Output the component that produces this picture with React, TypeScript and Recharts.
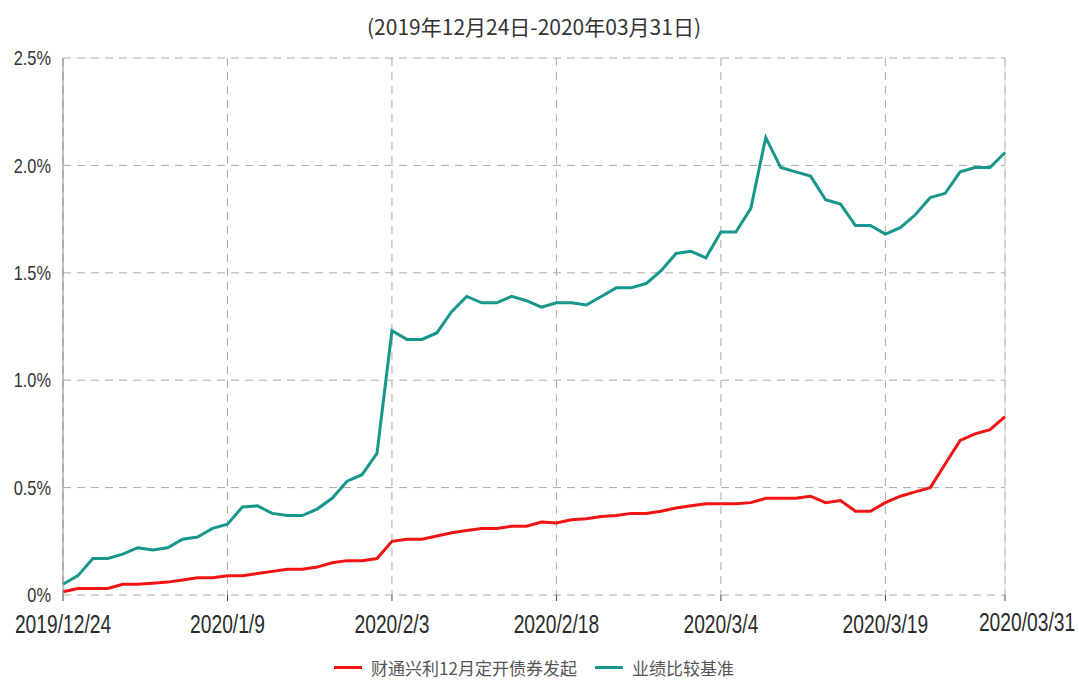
import { LineChart, Line, XAxis, YAxis, CartesianGrid, Legend, ReferenceLine } from 'recharts'

const dates = [
    '2019/12/24', '2019/12/25', '2019/12/26', '2019/12/27', '2019/12/30', '2019/12/31',
    '2020/1/2', '2020/1/3', '2020/1/6', '2020/1/7', '2020/1/8', '2020/1/9', '2020/1/10',
    '2020/1/13', '2020/1/14', '2020/1/15', '2020/1/16', '2020/1/17', '2020/1/20', '2020/1/21',
    '2020/1/22', '2020/1/23',
    '2020/2/3', '2020/2/4', '2020/2/5', '2020/2/6', '2020/2/7', '2020/2/10', '2020/2/11',
    '2020/2/12', '2020/2/13', '2020/2/14', '2020/2/17', '2020/2/18', '2020/2/19', '2020/2/20',
    '2020/2/21', '2020/2/24', '2020/2/25', '2020/2/26', '2020/2/27', '2020/2/28',
    '2020/3/2', '2020/3/3', '2020/3/4', '2020/3/5', '2020/3/6', '2020/3/9', '2020/3/10',
    '2020/3/11', '2020/3/12', '2020/3/13', '2020/3/16', '2020/3/17', '2020/3/18', '2020/3/19',
    '2020/3/20', '2020/3/23', '2020/3/24', '2020/3/25', '2020/3/26', '2020/3/27', '2020/3/30',
    '2020/3/31',
]

// 财通兴利12月定开债券发起 (%)
const fund = [
    0.015, 0.03, 0.03, 0.03, 0.05, 0.05, 0.055, 0.06, 0.07, 0.08, 0.08, 0.09, 0.09,
    0.10, 0.11, 0.12, 0.12, 0.13, 0.15, 0.16, 0.16, 0.17,
    0.25, 0.26, 0.26, 0.275, 0.29, 0.30, 0.31, 0.31, 0.32, 0.32, 0.34, 0.335, 0.35, 0.355,
    0.365, 0.37, 0.38, 0.38, 0.39, 0.405,
    0.415, 0.425, 0.425, 0.425, 0.43, 0.45, 0.45, 0.45, 0.46, 0.43, 0.44, 0.39, 0.39, 0.43,
    0.46, 0.48, 0.50, 0.61, 0.72, 0.75, 0.77, 0.83,
]

// 业绩比较基准 (%)
const benchmark = [
    0.05, 0.09, 0.17, 0.17, 0.19, 0.22, 0.21, 0.22, 0.26, 0.27, 0.31, 0.33, 0.41,
    0.415, 0.38, 0.37, 0.37, 0.40, 0.45, 0.53, 0.56, 0.66,
    1.23, 1.19, 1.19, 1.22, 1.32, 1.39, 1.36, 1.36, 1.39, 1.37, 1.34, 1.36, 1.36, 1.35,
    1.39, 1.43, 1.43, 1.45, 1.51, 1.59,
    1.60, 1.57, 1.69, 1.69, 1.80, 2.13, 1.99, 1.97, 1.95, 1.84, 1.82, 1.72, 1.72, 1.68,
    1.71, 1.77, 1.85, 1.87, 1.97, 1.99, 1.99, 2.06,
]

const tickDates = ['2019/12/24', '2020/1/9', '2020/2/3', '2020/2/18', '2020/3/4', '2020/3/19', '2020/3/31']
const tickLabels = ['2019/12/24', '2020/1/9', '2020/2/3', '2020/2/18', '2020/3/4', '2020/3/19', '2020/03/31']
const yTicks = [0, 0.5, 1.0, 1.5, 2.0, 2.5]

const seriesNames = ['财通兴利12月定开债券发起', '业绩比较基准']
const RED = '#f21414'
const TEAL = '#17968b'

const data = dates.map((d, i) => ({ i, date: d, fund: fund[i], benchmark: benchmark[i] }))
const xTicks = tickDates.map(d => dates.indexOf(d))
const lastIdx = dates.length - 1

const XTick = (props: any) => {
    const { x, y, payload } = props
    const k = xTicks.indexOf(payload.value)
    const isLast = payload.value === lastIdx
    return (
        <g transform={`translate(${x + (isLast ? 22 : 0)},${y + (isLast ? -2 : 0)})`}>
            <text transform="scale(0.74,1)" textAnchor="middle" dy="0.71em" fontSize={26}
                fontFamily="'Liberation Sans', Arial, sans-serif" fill="#2b2b2b">
                {tickLabels[k]}
            </text>
        </g>
    )
}

const YTick = (props: any) => {
    const { x, y, payload } = props
    const v = payload.value
    return (
        <g transform={`translate(${x},${y})`}>
            <text transform="scale(0.82,1)" textAnchor="end" dy="0.36em" fontSize={20}
                fontFamily="'Liberation Sans', Arial, sans-serif" fill="#333">
                {v === 0 ? '0%' : v.toFixed(1) + '%'}
            </text>
        </g>
    )
}

const LegendContent = () => (
    <div style={{ display: 'flex', justifyContent: 'center', alignItems: 'center', fontFamily: "'Noto Sans CJK SC', sans-serif", fontSize: 17, color: '#555' }}>
        {[RED, TEAL].map((c, k) => (
            <div key={k} style={{ display: 'flex', alignItems: 'center', marginRight: k === 0 ? 18 : 0 }}>
                <div style={{ width: 28, height: 3, background: c, marginRight: 9 }} />
                <span>{seriesNames[k]}</span>
            </div>
        ))}
    </div>
)

export default function App() {
    return (
        <div style={{ position: 'absolute', left: 0, top: 0, width: 1079, height: 688, background: '#fff' }}>
            <div style={{
                position: 'absolute', left: 0, top: 11, width: 1068, textAlign: 'center',
                fontFamily: "'Noto Sans CJK SC', sans-serif", fontSize: 21, color: '#333',
            }}>
                (2019年12月24日-2020年03月31日)
            </div>
            <LineChart
                width={1079}
                height={688}
                data={data}
                margin={{ top: 58, right: 74, left: 0, bottom: 28 }}
            >
                <CartesianGrid stroke="#aaa" strokeDasharray="8 6" />
                <XAxis
                    dataKey="i"
                    type="number"
                    domain={[0, lastIdx]}
                    ticks={xTicks}
                    interval={0}
                    axisLine={false}
                    tickLine={{ stroke: '#444' }}
                    tickSize={6}
                    tickMargin={14}
                    height={40}
                    tick={<XTick />}
                />
                <YAxis
                    domain={[0, 2.5]}
                    ticks={yTicks}
                    interval={0}
                    width={63}
                    axisLine={{ stroke: '#8a8a8a' }}
                    tickLine={false}
                    tickSize={0}
                    tickMargin={12}
                    tick={<YTick />}
                />
                <ReferenceLine x={lastIdx} stroke="#d0d0d0" strokeWidth={1} />
                <Line type="linear" dataKey="fund" name={seriesNames[0]} stroke={RED} strokeWidth={3} dot={false} isAnimationActive={false} />
                <Line type="linear" dataKey="benchmark" name={seriesNames[1]} stroke={TEAL} strokeWidth={3} dot={false} isAnimationActive={false} />
                <Legend
                    layout="vertical"
                    align="center"
                    verticalAlign="bottom"
                    content={<LegendContent />}
                    wrapperStyle={{ left: 0, top: 655, bottom: 'auto', width: 1068 }}
                />
            </LineChart>
        </div>
    )
}
